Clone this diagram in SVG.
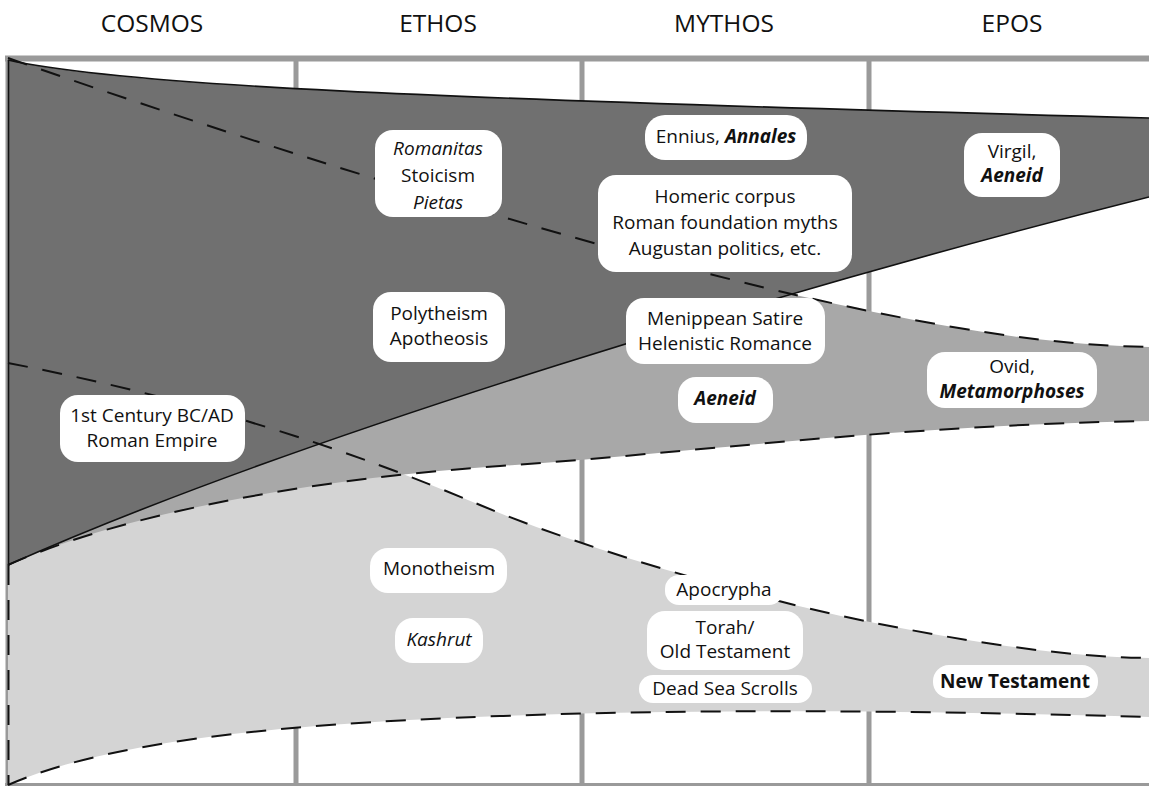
<svg xmlns="http://www.w3.org/2000/svg" width="1149" height="786" viewBox="0 0 1149 786">
<style>
.hdr{font-family:"Open Sans","Noto Sans","Liberation Sans",sans-serif;font-size:24.5px;fill:#111;text-anchor:middle}
.t{font-family:"Open Sans","Noto Sans","Liberation Sans",sans-serif;font-size:19px;fill:#111;text-anchor:middle}
.it{font-style:italic}
.bi{font-style:italic;font-weight:bold}
.b{font-weight:bold}
.box{fill:#fff}
.grid{stroke:#9a9a9a;stroke-width:5;fill:none}
.dash{fill:none;stroke:#111;stroke-width:2;stroke-dasharray:20 15}
.solid{fill:none;stroke:#111;stroke-width:1.6}
</style>
<rect width="1149" height="786" fill="#fff"/>
<g id="headers">
<text class="hdr" x="152" y="32">COSMOS</text>
<text class="hdr" x="438" y="32">ETHOS</text>
<text class="hdr" x="724" y="32">MYTHOS</text>
<text class="hdr" x="1012" y="32">EPOS</text>
</g>
<g id="grid" class="grid">
<line x1="5" y1="58.5" x2="1149" y2="58.5" stroke-width="6"/>
<line x1="8" y1="56" x2="8" y2="786"/>
<line x1="296" y1="58" x2="296" y2="786"/>
<line x1="582" y1="58" x2="582" y2="786"/>
<line x1="869" y1="58" x2="869" y2="786"/>
<line x1="5" y1="784.5" x2="1149" y2="784.5" stroke-width="3"/>
</g>
<g id="bands">
<path fill="#d4d4d4" d="M8,363 C200,400 350,450 480,505 C584,549 760,600 870,622 C958,640 1060,657 1149,658 L1149,717 C900,710 700,709 500,716 C250,725 100,745 8,785 Z"/>
<path fill="#a8a8a8" d="M8,58 C300,160 600,250 800,296 C950,330 1050,345 1149,347 L1149,421 C900,425 700,452 500,466 C300,480 120,515 8,565 Z"/>
<path fill="#707070" d="M8,60 C120,85 400,98 1149,118 L1149,197 C800,285 300,435 8,565 Z"/>
</g>
<g id="connectors">
<path class="solid" d="M8,60 C120,85 400,98 1149,118"/>
<path class="solid" d="M8,565 C300,435 800,285 1149,197"/>
<line class="solid" x1="8.5" y1="60" x2="8.5" y2="565"/>
<line class="dash" x1="8.5" y1="565" x2="8.5" y2="785"/>
<path class="dash" d="M8,58 C300,160 600,250 800,296 C950,330 1050,345 1149,347"/>
<path class="dash" d="M8,565 C120,515 300,480 500,466 C700,452 900,425 1149,421"/>
<path class="dash" d="M8,363 C200,400 350,450 480,505 C584,549 760,600 870,622 C958,640 1060,657 1149,658"/>
<path class="dash" d="M8,785 C100,745 250,725 500,716 C700,709 900,710 1149,717"/>
</g>
<g id="n-romanitas"><rect class="box" x="375" y="130" width="127" height="87" rx="18"/>
<text class="t it" x="438" y="155">Romanitas</text><text class="t" x="438" y="182">Stoicism</text><text class="t it" x="438" y="209">Pietas</text></g>
<g id="n-ennius"><rect class="box" x="645" y="115" width="162" height="45" rx="20"/>
<text class="t" x="726" y="143">Ennius, <tspan class="bi">Annales</tspan></text></g>
<g id="n-homeric"><rect class="box" x="598" y="175" width="254" height="97" rx="18"/>
<text class="t" x="725" y="203">Homeric corpus</text><text class="t" x="725" y="229">Roman foundation myths</text><text class="t" x="725" y="255">Augustan politics, etc.</text></g>
<g id="n-virgil"><rect class="box" x="964" y="133" width="96" height="64" rx="18"/>
<text class="t" x="1012" y="158">Virgil,</text><text class="t bi" x="1012" y="182">Aeneid</text></g>
<g id="n-polytheism"><rect class="box" x="373" y="292" width="132" height="70" rx="18"/>
<text class="t" x="439" y="320">Polytheism</text><text class="t" x="439" y="345">Apotheosis</text></g>
<g id="n-menippean"><rect class="box" x="626" y="298" width="199" height="66" rx="18"/>
<text class="t" x="725" y="325">Menippean Satire</text><text class="t" x="725" y="350">Helenistic Romance</text></g>
<g id="n-aeneid"><rect class="box" x="678" y="377" width="95" height="46" rx="18"/>
<text class="t bi" x="725" y="405">Aeneid</text></g>
<g id="n-ovid"><rect class="box" x="927" y="352" width="170" height="56" rx="18"/>
<text class="t" x="1012" y="373">Ovid,</text><text class="t bi" x="1012" y="398">Metamorphoses</text></g>
<g id="n-century"><rect class="box" x="60" y="395" width="185" height="67" rx="18"/>
<text class="t" x="152" y="422">1st Century BC/AD</text><text class="t" x="152" y="447">Roman Empire</text></g>
<g id="n-monotheism"><rect class="box" x="370" y="548" width="137" height="45" rx="18"/>
<text class="t" x="439" y="575">Monotheism</text></g>
<g id="n-kashrut"><rect class="box" x="395" y="618" width="88" height="45" rx="18"/>
<text class="t it" x="439" y="646">Kashrut</text></g>
<g id="n-apocrypha"><rect class="box" x="665" y="575" width="118" height="30" rx="14"/>
<text class="t" x="724" y="596">Apocrypha</text></g>
<g id="n-torah"><rect class="box" x="647" y="611" width="156" height="59" rx="18"/>
<text class="t" x="725" y="634">Torah/</text><text class="t" x="725" y="658">Old Testament</text></g>
<g id="n-deadsea"><rect class="box" x="639" y="675" width="173" height="28" rx="14"/>
<text class="t" x="725" y="695">Dead Sea Scrolls</text></g>
<g id="n-newtestament"><rect class="box" x="933" y="665" width="165" height="33" rx="16"/>
<text class="t b" x="1015" y="688">New Testament</text></g>
</svg>
